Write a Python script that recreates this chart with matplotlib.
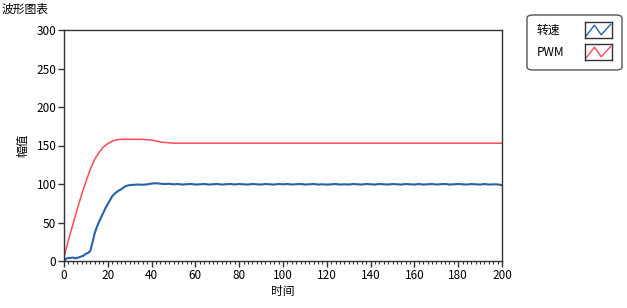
import matplotlib
matplotlib.use("Agg")
import matplotlib.pyplot as plt
from matplotlib.patches import FancyBboxPatch
import numpy as np

plt.rcParams['font.family'] = ['Noto Sans CJK SC', 'DejaVu Sans']

# ---- data ----
title = "波形图表"
x_label = "时间"
y_label = "幅值"
series_names = ["转速", "PWM"]

speed_t = [0, 1, 2, 3, 4, 5, 6, 7, 8, 9, 10, 11, 12, 13, 14, 15, 16, 17, 18, 19,
           20, 21, 22, 23, 24, 25, 26, 27, 28, 29, 30,
           32, 34, 36, 38, 40, 42, 44, 46, 48, 50, 52, 54, 56, 58, 60, 62, 64, 66, 68, 70,
           72, 74, 76, 78, 80, 82, 84, 86, 88, 90, 92, 94, 96, 98, 100, 102, 104, 106, 108, 110,
           112, 114, 116, 118, 120, 122, 124, 126, 128, 130, 132, 134, 136, 138, 140, 142, 144, 146, 148, 150,
           152, 154, 156, 158, 160, 162, 164, 166, 168, 170, 172, 174, 176, 178, 180, 182, 184, 186, 188, 190,
           192, 194, 196, 198, 200]
speed_v = [0, 3, 4, 4, 4.5, 3.5, 4, 5, 6, 7, 9.5, 10.5, 13, 24, 36, 44, 51, 57, 63, 69,
           74, 79, 84, 87, 89.5, 91.5, 93, 95, 97, 98, 98.5,
           99, 99.3, 99, 99.6, 100.6, 101, 100.4, 100, 100.3, 99.6, 100, 99.3, 99.7, 100, 99.3, 99.6, 100, 99.3, 99.7, 100,
           99.3, 99.7, 100, 99.4, 100, 99.6, 99.3, 100, 99.6, 99.3, 100, 99.6, 99.3, 100, 99.6, 100, 99.3, 99.7, 100, 99.3,
           99.6, 100, 99.3, 99.6, 99.2, 99.6, 100, 99.3, 99.6, 99.3, 100, 99.6, 99.3, 100, 99.6, 99.3, 100, 99.6, 99.3, 100,
           99.6, 99.3, 100, 99.6, 99.3, 100, 99.3, 99.6, 100, 99.3, 99.7, 100, 99.3, 99.6, 100, 99.6, 99.3, 100, 99.6, 99.3,
           100, 99.3, 99.6, 99.5, 98.5]

pwm_t = [0, 2, 4, 6, 8, 10, 12, 14, 16, 18, 20, 22, 24, 26, 30, 36, 40, 42, 44, 46, 48, 50, 200]
pwm_v = [5, 27, 47, 67, 86, 103, 119, 132, 141, 148, 152.5, 155.5, 157.5, 158, 158, 158, 157, 156, 154.5, 154, 153.5, 153, 153]

x_ticks = list(range(0, 201, 20))
y_ticks = list(range(0, 301, 50))

blue = "#2a62a8"
red = "#ff4a5a"

# ---- figure ----
fig = plt.figure(figsize=(6.27, 3.08), dpi=100)
ax = fig.add_axes([64/627, 1-261/308, (502-64)/627, (261-30)/308])

ax.plot(speed_t, speed_v, color=blue, lw=1.5)
ax.plot(pwm_t, pwm_v, color=red, lw=1.1)

ax.set_xlim(0, 200)
ax.set_ylim(0, 300)
ax.set_xticks(x_ticks)
ax.set_yticks(y_ticks)
ax.set_xticks(np.arange(0, 201, 2), minor=True)
ax.tick_params(axis='both', which='major', direction='out', length=4, width=1, labelsize=8.5, pad=1.5, color='#333333')
ax.tick_params(axis='x', which='minor', direction='out', length=2.5, width=0.8, color='#333333')
for s in ax.spines.values():
    s.set_color('#333333')
    s.set_linewidth(1.0)

fig.text(23/627, 1-145/308, y_label, rotation=90, ha='center', va='center', fontsize=8.5)
fig.text(283/627, 1-292/308, x_label, ha='center', va='center', fontsize=8.5)
fig.text(2/627, 1-9/308, title, ha='left', va='center', fontsize=8.5)

# ---- legend ----
box = FancyBboxPatch((527/627, 1-70/308), 95/627, 55/308,
                     boxstyle="round,pad=0,rounding_size=0.01",
                     transform=fig.transFigure, facecolor='white', edgecolor='#555555', lw=1.0, zorder=-1)
fig.patches.append(box)
for i, (name, col) in enumerate(zip(series_names, [blue, red])):
    yc = 30 + i * 22
    fig.text(537/627, 1-yc/308, name, ha='left', va='center', fontsize=8.5)
    lax = fig.add_axes([585/627, 1-(yc+8)/308, 27/627, 16/308])
    lax.set_zorder(5)
    lax.set_xlim(0, 4)
    lax.set_ylim(0, 4)
    lax.plot([0.2, 1.4, 2.4, 3.8], [0.6, 3.2, 0.8, 3.4], color=col, lw=1.0)
    lax.set_xticks([])
    lax.set_yticks([])
    for s in lax.spines.values():
        s.set_color('#333333')
        s.set_linewidth(1.0)

fig.savefig("out.png", dpi=100)
